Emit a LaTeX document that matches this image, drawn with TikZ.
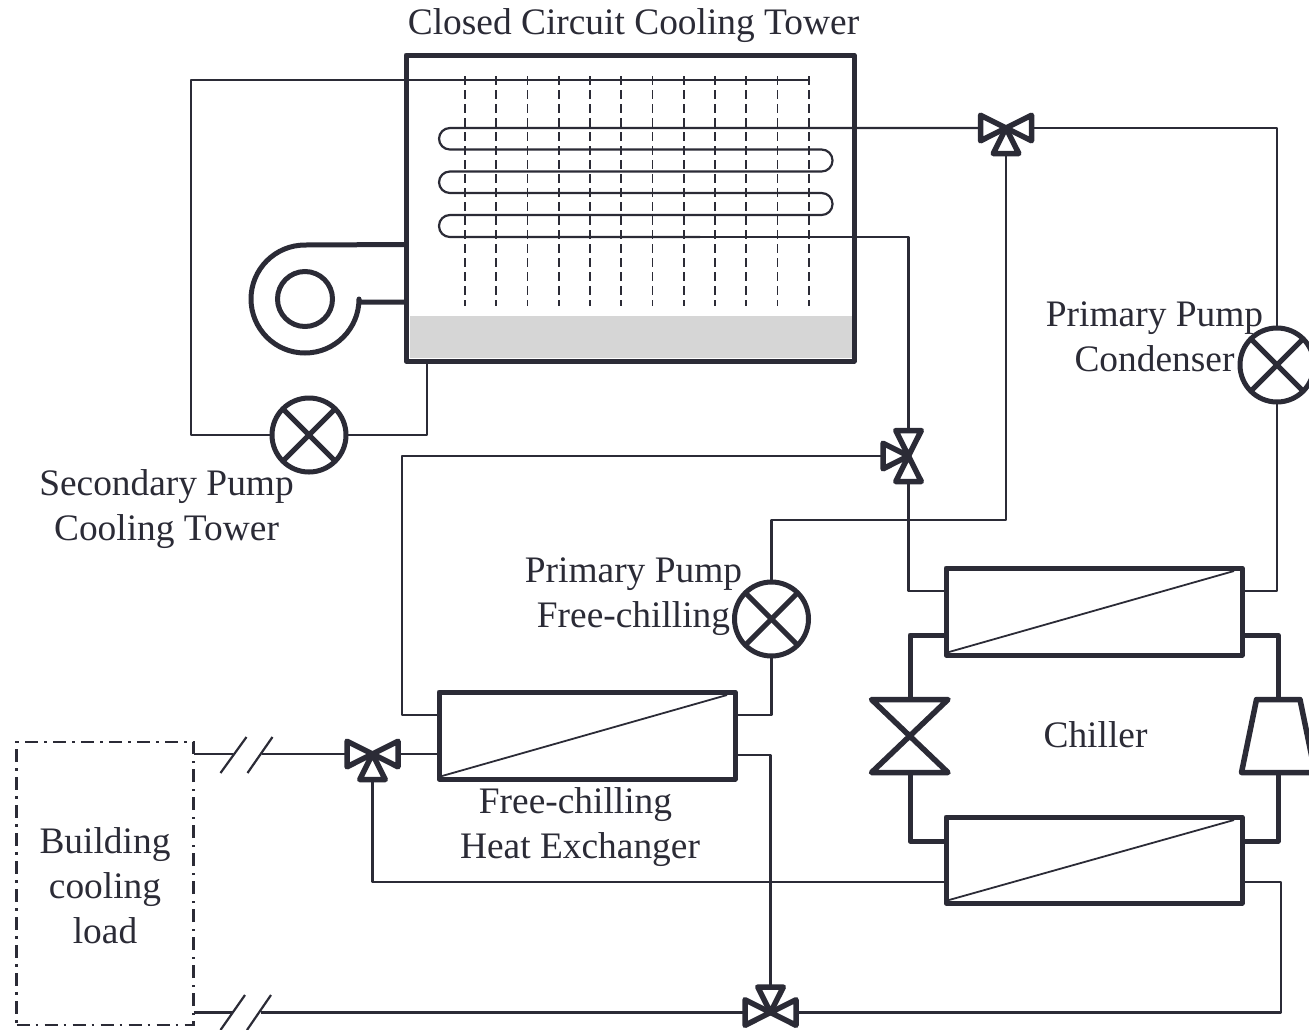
\documentclass[tikz,border=0pt]{standalone}
\usepackage{fontspec}
\setmainfont{Liberation Serif}
\usetikzlibrary{calc}
\definecolor{ink}{HTML}{2B2B36}
\definecolor{basin}{HTML}{D6D6D6}
\newcommand\legW{\draw[valveline] (0,0) -- (-25.5,-12.8) -- (-25.5,12.8) -- cycle; \coordinate (-w) at (-25.5,0);}
\newcommand\legE{\draw[valveline] (0,0) -- (25.5,-12.8) -- (25.5,12.8) -- cycle; \coordinate (-e) at (25.5,0);}
\newcommand\legS{\draw[valveline] (0,0) -- (-12.8,25.5) -- (12.8,25.5) -- cycle; \coordinate (-s) at (0,25.5);}
\newcommand\legN{\draw[valveline] (0,0) -- (-12.8,-25.5) -- (12.8,-25.5) -- cycle; \coordinate (-n) at (0,-25.5);}
\tikzset{
  pipe/.style={draw=ink,line width=2.2pt,line join=round},
  refrig/.style={draw=ink,line width=5pt,line join=round},
  spray/.style={draw=ink,line width=1.6pt,dash pattern=on 8.5pt off 5.5pt},
  valveline/.style={draw=ink,line width=5.5pt,line join=round},
  hxbox/.style={rectangle,draw=ink,line width=5pt,line join=round,inner sep=0pt,outer sep=0pt},
  pumpnode/.style={circle,draw=ink,line width=5pt,fill=white,minimum size=74pt,inner sep=0pt,outer sep=0pt,
    path picture={\draw[ink,line width=5pt] ($(path picture bounding box.center)+(-27,-27)$) -- ($(path picture bounding box.center)+(27,27)$);
      \draw[ink,line width=5pt] ($(path picture bounding box.center)+(-27,27)$) -- ($(path picture bounding box.center)+(27,-27)$);}},
  label text/.style={text=ink,align=center,font=\fontsize{37.4}{45}\selectfont,inner sep=0pt},
  pics/valveWES/.style={code={\legW\legE\legS}},
  pics/valveNSW/.style={code={\legN\legS\legW}},
  pics/valveWEN/.style={code={\legW\legE\legN}},
}
\begin{document}
\begin{tikzpicture}[x=1pt,y=-1pt]
\useasboundingbox (0,0) rectangle (1309,1029);
% basin and tower casing
\node[fill=basin,minimum width=443pt,minimum height=42pt,inner sep=0pt,outer sep=0pt] (basin) at (631.5,337) {};
\node[hxbox,minimum width=448pt,minimum height=306pt] (tower) at (630,208) {};
% spray lines
\foreach \x in {465,496.2,527.5,558.7,590,621.2,652.5,683.7,715,746.2,777.5,808.7}
  \draw[spray] (\x,76) -- (\x,306);
% fan
\node[circle,draw=ink,line width=5pt,minimum size=55pt,inner sep=0pt] (fanhub) at (305,299) {};
\coordinate (fantop) at (tower.west |- 0,244.5);
\coordinate (fanlow) at (tower.west |- 0,302);
\draw[refrig] (fantop) -- (305,245) arc[start angle=270,end angle=0,radius=54] -- (359,302) -- (fanlow);
% pumps and valves
\node[pumpnode] (psec) at (309,435) {};
\node[pumpnode] (pfree) at (771.5,619) {};
\node[pumpnode] (pcond) at (1277,365) {};
\pic (v1) at (1006,128) {valveWES};
\pic (v2) at (908.5,456) {valveNSW};
\pic (v3) at (372.5,754) {valveWES};
\pic (v4) at (770.5,1012.5) {valveWEN};
% heat exchangers
\node[hxbox,minimum width=296pt,minimum height=87pt] (hxf) at (587,735.5) {};
\node[hxbox,minimum width=296pt,minimum height=87pt] (cond) at (1094,611.5) {};
\node[hxbox,minimum width=296pt,minimum height=86pt] (evap) at (1094,860) {};
\foreach \n in {hxf,cond,evap}
  \draw[ink,line width=1.8pt] ($(\n.south west)+(3,-3)$) -- ($(\n.north east)+(-8,3)$);
% building load
\node[draw=ink,line width=2.4pt,dash pattern=on 13pt off 6pt on 2.5pt off 6.5pt,minimum width=177pt,minimum height=283pt,inner sep=0pt,outer sep=0pt] (bld) at (105,883.5) {};
\node[label text] (bldt) at (105,886) {Building\\cooling\\load};
% tower circuit
\coordinate (sprayend) at (810,80);
\coordinate (towerout) at (427,361);
\draw[pipe] (sprayend) -- (191,80) -- (191,435) -- (psec.west);
\draw[pipe] (psec.east) -| (towerout);
% coil
\draw[pipe,rounded corners=10.9pt] (v1-w) -- (439,128) -- (439,149.5) -- (832.5,149.5) -- (832.5,171.5) -- (439,171.5) -- (439,193) -- (832.5,193) -- (832.5,215) -- (439,215) -- (439,237) -- (700,237);
\draw[pipe] (700,237) -- (908.5,237) -- (v2-n);
% other water circuits
\draw[pipe] (v1-e) -| (pcond.north);
\draw[pipe] (pcond.south) |- (cond.east |- 0,591);
\draw[pipe] (v1-s) -- (1006,520) -| (pfree.north);
\draw[pipe] (pfree.south) |- (hxf.east |- 0,715);
\draw[pipe] (v2-w) -| (402,715) -- (hxf.west |- 0,715);
\draw[pipe] (v2-s) |- (cond.west |- 0,591);
\draw[pipe] (v3-e) -- (hxf.west |- v3-e);
\draw[pipe] (v3-s) |- (evap.west |- 0,882);
\draw[pipe] (hxf.east |- 0,755) -| (v4-n);
\draw[pipe] (v4-e) -| (1281,882) -- (evap.east |- 0,882);
% refrigerant loop
\coordinate (xv) at (910,736);
\draw[valveline] (871.5,699.5) -- (948,699.5) -- (871.5,772.5) -- (948,772.5) -- cycle;
\coordinate (comptop) at (1278,699.5);
\coordinate (compbot) at (1278,772.5);
\draw[valveline] (1256.5,699.5) -- (1300,699.5) -- (1315,772.5) -- (1241.5,772.5) -- cycle;
\draw[refrig] (cond.west |- 0,635) -- (910,635) -- (910,699.5);
\draw[refrig] (910,772.5) -- (910,841) -- (evap.west |- 0,841);
\draw[refrig] (cond.east |- 0,635) -| (comptop);
\draw[refrig] (compbot) |- (evap.east |- 0,841);
% breaks
\coordinate (b1) at (233,754);
\coordinate (b2) at (262,754);
\coordinate (b3) at (233,1012.5);
\coordinate (b4) at (261,1012.5);
\draw[pipe] (bld.east |- v3-w) -- (b1);
\draw[pipe] (b2) -- (v3-w);
\draw[pipe] (bld.east |- b3) -- (b3);
\draw[pipe] (b4) -- (v4-w);
\draw[pipe] (220.5,773) -- (246.5,737);
\draw[pipe] (247.5,773) -- (272.5,737);
\draw[pipe] (220.5,1030) -- (245,995);
\draw[pipe] (247,1030) -- (271,995);
% labels
\node[label text] (t1) at (633.5,26) {Closed Circuit Cooling Tower};
\node[label text] (t2) at (166.5,509) {Secondary Pump\\Cooling Tower};
\node[label text] (t3) at (633.5,596.5) {Primary Pump\\Free-chilling};
\node[label text] (t4) at (1154.5,337) {Primary Pump\\Condenser};
\node[label text] (t5) at (1095.5,735) {Chiller};
\node[label text] (t6) at (580,827) {\hspace*{-9pt}Free-chilling\\Heat Exchanger};
\end{tikzpicture}
\end{document}
